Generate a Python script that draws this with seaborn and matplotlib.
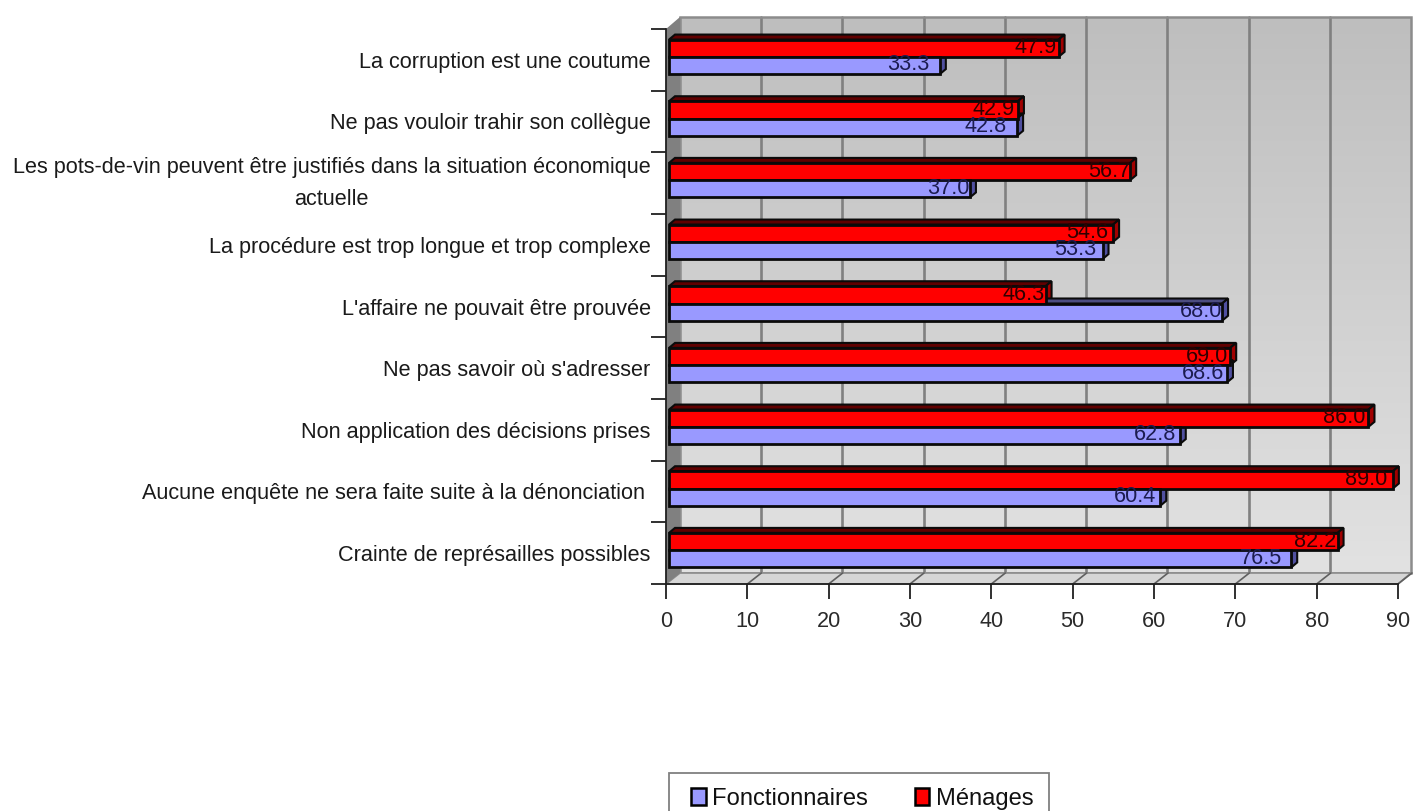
import numpy as np
import pandas as pd
import matplotlib
matplotlib.use('Agg')
import matplotlib.pyplot as plt
import seaborn as sns
from matplotlib.patches import Polygon, Rectangle

# valeurs
categories = [
    'La corruption est une coutume',
    'Ne pas vouloir trahir son collègue',
    'Les pots-de-vin peuvent être justifiés dans la situation économique\nactuelle',
    'La procédure est trop longue et trop complexe',
    "L'affaire ne pouvait être prouvée",
    "Ne pas savoir où s'adresser",
    'Non application des décisions prises',
    'Aucune enquête ne sera faite suite à la dénonciation ',
    'Crainte de représailles possibles',
]
menages = [47.9, 42.9, 56.7, 54.6, 46.3, 69.0, 86.0, 89.0, 82.2]
fonctionnaires = [33.3, 42.8, 37.0, 53.3, 68.0, 68.6, 62.8, 60.4, 76.5]
x_ticks = [0, 10, 20, 30, 40, 50, 60, 70, 80, 90]

# decalage horizontal des etiquettes (px), pour coller au graphique d'origine
nudge_menages = [2, 3, 0, 5, 1, 2, 3, 6, 1]
nudge_fonct = [10, 10, 0, 6, 0, 3, 4, 4, 9]

sns.set_style('white')
plt.rcParams['font.family'] = ['Liberation Sans', 'DejaVu Sans']

W, H = 1413, 811
FS = 15.6
RED, BLUE = '#ff0000', '#9999ff'

df = pd.DataFrame({
    'cat': categories * 2,
    'val': menages + fonctionnaires,
    'serie': ['Ménages'] * 9 + ['Fonctionnaires'] * 9,
})

fig = plt.figure(figsize=(W / 100, H / 100), dpi=100)

# fond en pixels : mur, sol, cote
bg = fig.add_axes([0, 0, 1, 1], zorder=0)
bg.set_xlim(0, W)
bg.set_ylim(H, 0)
bg.axis('off')

x0, x1, y0, y1 = 666, 1398, 29, 584
dx, dy = 14, 11
wall_w = x1 - x0 - 1
grad = np.linspace(0, 1, 256).reshape(-1, 1)
bg.imshow(grad, cmap=matplotlib.colors.LinearSegmentedColormap.from_list('w', ['#bebebe', '#e2e2e2']),
          extent=[x0 + dx, x0 + dx + wall_w, y1 - dy, y0 - 12], aspect='auto', zorder=1)
for v in x_ticks[1:-1]:
    xp = x0 + dx + wall_w * v / 90
    bg.plot([xp, xp], [y0 - 12, y1 - dy], color='#808080', lw=1.9, zorder=2)
bg.add_patch(Rectangle((x0 + dx, y0 - 12), wall_w, y1 - y0 + 1, fill=False, ec='#8c8c8c', lw=1.8, zorder=3))

bg.add_patch(Polygon([(x0, y1), (x0 + dx, y1 - dy), (x0 + dx + wall_w, y1 - dy), (x1, y1)],
                     fc='#d6d6d6', ec='#8c8c8c', lw=1.2, zorder=3))
bg.add_patch(Polygon([(x0, y0), (x0 + dx, y0 - 12), (x0 + dx, y1 - dy), (x0, y1)], fc='#808080', ec='none', zorder=3))
for v in x_ticks[1:]:
    xp = x0 + (x1 - x0) * v / 90
    bg.plot([xp, xp + dx], [y1, y1 - dy], color='#606060', lw=1.2, zorder=4)

# cadre de la legende, coupe par le bas de l'image comme sur l'original
bg.add_patch(Rectangle((669, 773), 380, 60, fc='white', ec='#808080', lw=1.3, zorder=1))
bg.set_xlim(0, W)
bg.set_ylim(H, 0)

# barres
ax = fig.add_axes([x0 / W, 1 - y1 / H, (x1 - x0) / W, (y1 - y0) / H], zorder=2)
ax.patch.set_alpha(0)
sns.barplot(data=df, y='cat', x='val', hue='serie', hue_order=['Ménages', 'Fonctionnaires'],
            palette=[RED, BLUE], orient='h', width=0.56, gap=0, legend=False,
            edgecolor='#0a0a0a', linewidth=2.0, saturation=1, ax=ax)
ax.set_xlim(0, 90)
ax.set_ylim(8.5, -0.5)
ax.set_xlabel('')
ax.set_ylabel('')

ux = 90 / (x1 - x0)
uy = 9 / (y1 - y0)
styles = [('#600000', '#a00000', menages, nudge_menages, '#300000'),
          ('#4d4d80', '#5050a0', fonctionnaires, nudge_fonct, '#1c1c50')]
for k, (cont, st) in enumerate(zip(ax.containers, styles)):
    top, side, vals, nudge, tc = st
    for i, bar in enumerate(cont):
        bar.set_x(3 * ux)
        bar.set_y(bar.get_y() - 3 * uy)
        bar.set_zorder(5)
        xa = bar.get_x()
        xb = xa + bar.get_width()
        ya = bar.get_y()
        yb = ya + bar.get_height()
        ox, oy = 6 * ux, 5 * uy
        ax.add_patch(Polygon([(xa, ya), (xa + ox, ya - oy), (xb + ox, ya - oy), (xb, ya)],
                             fc=top, ec='#0a0a0a', lw=1.5, zorder=3, clip_on=False))
        ax.add_patch(Polygon([(xb, ya), (xb + ox, ya - oy), (xb + ox, yb - oy), (xb, yb)],
                             fc=side, ec='#0a0a0a', lw=1.5, zorder=3, clip_on=False))
        ax.text(xb - nudge[i] * ux, (ya + yb) / 2 - 0.5 * uy, f'{vals[i]:.1f}', ha='right', va='center',
                fontsize=FS, color=tc, zorder=6, clip_on=False)

# axes
sns.despine(ax=ax, top=True, right=True)
for side_name in ['left', 'bottom']:
    ax.spines[side_name].set_linewidth(1.3)
    ax.spines[side_name].set_color('#202020')
ax.set_xticks(x_ticks)
ax.set_yticks(np.arange(-0.5, 9.5), minor=True)
ax.tick_params(axis='y', which='major', length=0, pad=11, labelsize=FS, labelcolor='#1a1a1a')
ax.tick_params(axis='y', which='minor', length=10.5, width=1.3, color='#202020', left=True)
ax.tick_params(axis='x', length=11, width=1.3, color='#202020', pad=8.5, labelsize=FS, labelcolor='#2a2a2a', bottom=True)
for t in ax.get_yticklabels():
    t.set_multialignment('center')
    t.set_linespacing(1.7)
    if '\n' in t.get_text():
        t.set_va('center')

# legende
handles = [Rectangle((0, 0), 1, 1, fc=BLUE, ec='black', lw=1.8), Rectangle((0, 0), 1, 1, fc=RED, ec='black', lw=1.8)]
bg.legend(handles, ['Fonctionnaires', 'Ménages'], ncols=2, loc='upper left',
          bbox_to_anchor=(691 / W, 1 - 788 / H), bbox_transform=fig.transFigure,
          frameon=False, borderaxespad=0, borderpad=0,
          fontsize=17.1, handlelength=0.62, handleheight=0.7, handletextpad=0.28,
          columnspacing=1.95, labelcolor='#111111')

fig.savefig('out.png', dpi=100)
